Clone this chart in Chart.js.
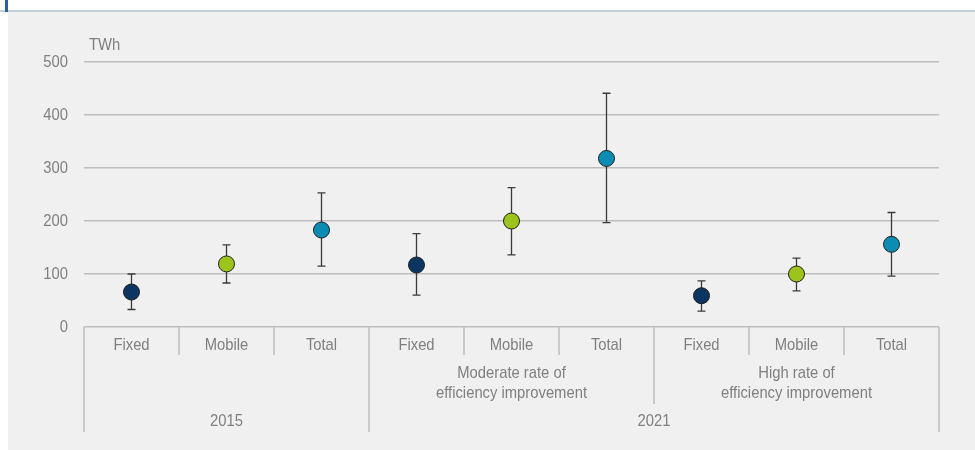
<!DOCTYPE html>
<html>
<head>
<meta charset="utf-8">
<title>Data transmission network energy use (TWh)</title>
<script src="https://cdn.jsdelivr.net/npm/chart.js@4.4.1/dist/chart.umd.min.js"></script>
<style>
    html, body { margin: 0; padding: 0; background: #ffffff; }
    #topbar { position: absolute; left: 0; top: 0; width: 975px; height: 10px; border-bottom: 2px solid #c4cfdc; }
    #topbar .mark { position: absolute; left: 5px; top: 0; width: 3px; height: 12px; background: #2f5f9e; }
    #panel { position: absolute; left: 8px; top: 12px; width: 967px; height: 438px; background: #f0f0f0; }
    #wrap { position: absolute; left: 0; top: 0; width: 975px; height: 450px; }
</style>
</head>
<body>
<div id="topbar"><div class="mark"></div></div>
<div id="panel"></div>
<div id="wrap"><canvas id="chart" width="975" height="450"></canvas></div>
<script>
// categories along the x axis (three levels)
const categories = ['Fixed', 'Mobile', 'Total', 'Fixed', 'Mobile', 'Total', 'Fixed', 'Mobile', 'Total'];
const scenarioLabels = [[], ['Moderate rate of', 'efficiency improvement'], ['High rate of', 'efficiency improvement']];
const yearLabels = ['2015', '2021'];
const yearSpans = [1, 2]; // number of scenario groups under each year

// values in TWh
const central = [66, 119, 183, 117, 200, 318, 59, 100, 156];
const lowBound = [33, 83, 115, 60, 136, 197, 30, 68, 96];
const highBound = [100, 155, 253, 176, 263, 441, 87, 130, 216];

const yTicks = [0, 100, 200, 300, 400, 500];
const unitLabel = 'TWh';

const colours = {
    Fixed: '#0c3661',
    Mobile: '#9dc41c',
    Total: '#0b8db3'
};

const FONT = '"Liberation Sans", Arial, sans-serif';
const TEXT = '#7f7f7f';
const LINE = '#bdbdbd';
const SQUEEZE = 0.87; // the original uses a narrow face

// draws text squeezed horizontally
function narrowText(ctx, t, x, y) {
    ctx.save();
    ctx.translate(x, y);
    ctx.scale(SQUEEZE, 1);
    ctx.fillText(t, 0, 0);
    ctx.restore();
}

// error bars, drawn under the points
const errorBars = {
    id: 'errorBars',
    beforeDatasetsDraw(chart) {
        const ctx = chart.ctx;
        const x = chart.scales.x;
        const y = chart.scales.y;
        ctx.save();
        ctx.strokeStyle = '#3a3a3a';
        ctx.lineWidth = 1.3;
        central.forEach((v, i) => {
            const px = x.getPixelForValue(i);
            const top = y.getPixelForValue(highBound[i]);
            const bot = y.getPixelForValue(lowBound[i]);
            ctx.beginPath();
            ctx.moveTo(px, top);
            ctx.lineTo(px, bot);
            ctx.moveTo(px - 4, top);
            ctx.lineTo(px + 4, top);
            ctx.moveTo(px - 4, bot);
            ctx.lineTo(px + 4, bot);
            ctx.stroke();
        });
        ctx.restore();
    }
};

// table style category axis below the plot, plus y labels
const tableAxis = {
    id: 'tableAxis',
    afterDraw(chart) {
        const ctx = chart.ctx;
        const x = chart.scales.x;
        const y = chart.scales.y;
        const area = chart.chartArea;
        const band = (area.right - area.left) / categories.length;
        const base = area.bottom;
        const edge = i => area.left + band * i;

        ctx.save();
        ctx.strokeStyle = LINE;
        ctx.lineWidth = 1.5;
        ctx.fillStyle = TEXT;
        ctx.textBaseline = 'middle';
        ctx.font = '17px ' + FONT;

        // y tick labels
        ctx.textAlign = 'right';
        yTicks.forEach(v => narrowText(ctx, String(v), area.left - 16, y.getPixelForValue(v)));

        // unit label
        ctx.textAlign = 'left';
        narrowText(ctx, unitLabel, area.left + 5, base - 282);
        ctx.textAlign = 'center';

        // separators
        const yearEdges = [0];
        yearSpans.reduce((acc, n) => { acc += n * 3; yearEdges.push(acc); return acc; }, 0);
        for (let i = 0; i <= categories.length; i++) {
            let end = base + 28;
            if (yearEdges.includes(i)) end = base + 105;
            else if (i % 3 === 0) end = base + 77;
            ctx.beginPath();
            ctx.moveTo(edge(i), base);
            ctx.lineTo(edge(i), end);
            ctx.stroke();
        }

        // category labels
        categories.forEach((c, i) => {
            narrowText(ctx, c, x.getPixelForValue(i), base + 18);
        });

        // scenario labels
        scenarioLabels.forEach((lines, g) => {
            const cx = (edge(g * 3) + edge(g * 3 + 3)) / 2;
            lines.forEach((t, k) => narrowText(ctx, t, cx, base + 46 + k * 20.5));
        });

        // year labels
        let start = 0;
        yearLabels.forEach((t, k) => {
            const end = start + yearSpans[k] * 3;
            narrowText(ctx, t, (edge(start) + edge(end)) / 2, base + 94);
            start = end;
        });
        ctx.restore();
    }
};

new Chart(document.getElementById('chart'), {
    type: 'line',
    data: {
        labels: categories,
        datasets: [{
            label: 'Central estimate',
            data: central,
            showLine: false,
            pointRadius: 8,
            pointHoverRadius: 8,
            pointBorderWidth: 1,
            pointBorderColor: '#1f1f1f',
            pointBackgroundColor: categories.map(c => colours[c])
        }]
    },
    options: {
        responsive: false,
        animation: false,
        layout: { padding: { left: 0, right: 36, top: 62, bottom: 123 } },
        plugins: {
            legend: { display: false },
            tooltip: { enabled: false }
        },
        scales: {
            x: {
                type: 'category',
                offset: true,
                display: false
            },
            y: {
                min: 0,
                max: 500,
                afterBuildTicks: axis => { axis.ticks = yTicks.map(v => ({ value: v })); },
                afterFit: axis => { axis.width = 84; },
                border: { display: false },
                grid: { color: LINE, lineWidth: 1.5, drawTicks: false },
                ticks: { display: false }
            }
        }
    },
    plugins: [errorBars, tableAxis]
});
</script>
</body>
</html>
